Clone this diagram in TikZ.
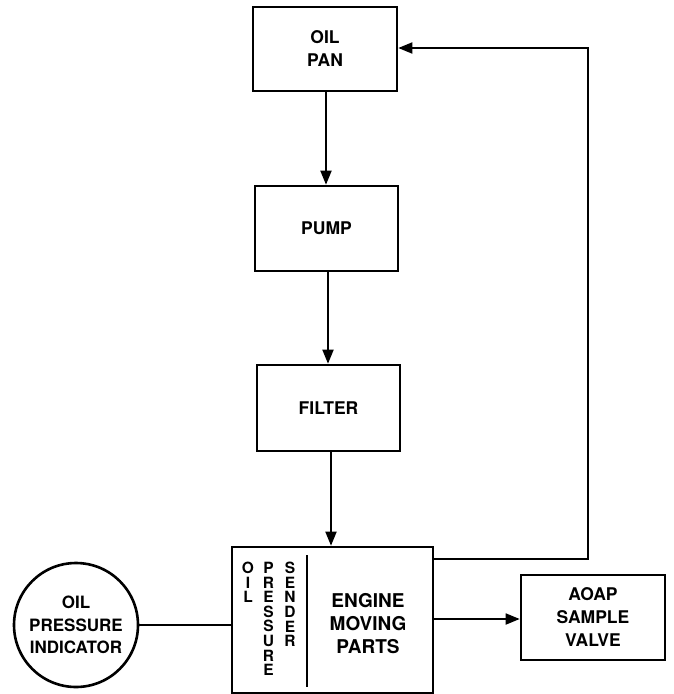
\documentclass[tikz,border=0pt]{standalone}
\usepackage{fontspec}
\setmainfont{TeX Gyre Heros}
\usetikzlibrary{arrows.meta}
\begin{document}
\begin{tikzpicture}[x=1pt,y=-1pt,
  box/.style={draw, line width=2.6pt, rectangle, minimum width=#1, align=center, font=\fontsize{17.5}{23}\selectfont\bfseries, inner sep=0pt},
  circ/.style={draw, line width=2.6pt, circle, minimum size=124pt, align=center, font=\fontsize{17}{22.5}\selectfont\bfseries, inner sep=0pt},
  vert/.style={anchor=north, align=center, font=\fontsize{15.5}{14.6}\selectfont\bfseries, inner sep=0pt},
  conn/.style={line width=1.8pt},
  arr/.style={conn, -{Triangle[length=14pt,width=11pt]}}
]
\useasboundingbox (0,0) rectangle (674,694);
\node[box=144pt, minimum height=84pt] (pan) at (325,49) {OIL\\PAN};
\node[box=143pt, minimum height=85pt] (pump) at (326.5,228.5) {PUMP};
\node[box=143pt, minimum height=86pt] (filter) at (328.5,408) {FILTER};
\node[box=201pt, minimum height=146pt] (engine) at (332.5,620) {};
\node[box=144pt, minimum height=85pt] (aoap) at (593,617.5) {AOAP\\SAMPLE\\VALVE};
\node[circ] (ind) at (76,625) {OIL\\PRESSURE\\INDICATOR};
\node[align=center, font=\fontsize{19}{23}\selectfont\bfseries, inner sep=0pt] (emp) at (368,624) {ENGINE\\MOVING\\PARTS};
\node[vert] (v1) at (248,562) {O\\I\\L};
\node[vert] (v2) at (268.5,562) {P\\R\\E\\S\\S\\U\\R\\E};
\node[vert] (v3) at (290,562) {S\\E\\N\\D\\E\\R};
\coordinate (dtop) at (307,555);
\coordinate (dbot) at (307,687);
\draw[line width=2pt] (dtop) -- (dbot);
\draw[arr] (pan.south -| 326,0) -- (pump.north -| 326,0);
\draw[arr] (pump.south -| 328,0) -- (filter.north -| 328,0);
\draw[arr] (filter.south -| 331,0) -- (engine.north -| 331,0);
\coordinate (c1) at (588,559);
\coordinate (c2) at (588,48);
\draw[arr] (engine.east |- c1) -- (c1) -- (c2) -- (pan.east |- c2);
\draw[arr] (engine.east |- 0,619) -- (aoap.west |- 0,619);
\draw[conn] (ind.east) -- (engine.west |- ind.east);
\end{tikzpicture}
\end{document}
